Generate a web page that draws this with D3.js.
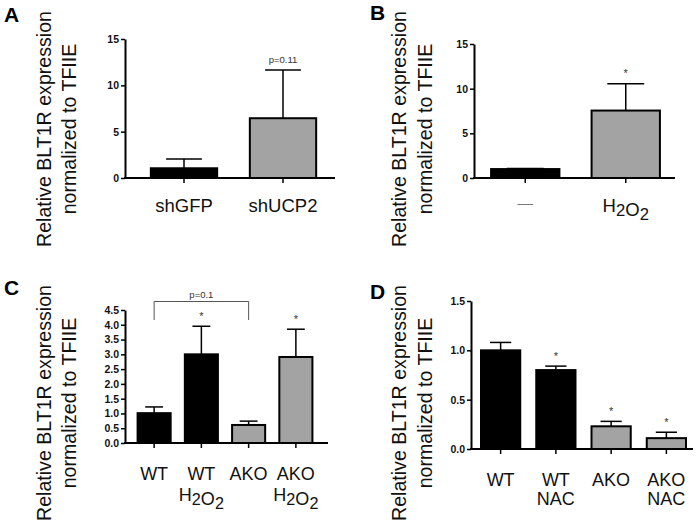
<!DOCTYPE html>
<html>
<head>
<meta charset="utf-8">
<script src="https://cdn.jsdelivr.net/npm/d3@7"></script>
<style>
body { margin: 0; background: #fff; }
svg text { font-family: "Liberation Sans", Arial, Helvetica, sans-serif; }
</style>
</head>
<body>
<svg id="fig" width="697" height="523"></svg>
<script>
// data
// A: shRNA knockdown
var catsA = ["shGFP", "shUCP2"],
	meanA = [1.05, 6.45],
	semA = [1.0, 5.2],
	groupA = ["ctrl", "alt"],
	noteA = ["", "p=0.11"],
	ticksA = [0, 5, 10, 15];

// B: H2O2 treatment
var catsB = ["—", "H_2O_2"],
	meanB = [1.0, 7.55],
	semB = [0.06, 3.0],
	groupB = ["ctrl", "alt"],
	noteB = ["", "*"],
	ticksB = [0, 5, 10, 15];

// C: WT / AKO +- H2O2
var catsC = ["WT", "WT|H_2O_2", "AKO", "AKO|H_2O_2"],
	meanC = [1.01, 3.0, 0.61, 2.91],
	semC = [0.21, 0.95, 0.13, 0.94],
	groupC = ["ctrl", "ctrl", "alt", "alt"],
	noteC = ["", "*", "", "*"],
	ticksC = [0, 0.5, 1, 1.5, 2, 2.5, 3, 3.5, 4, 4.5],
	bracketC = [0, 2],
	bracketTextC = "p=0.1";

// D: WT / AKO +- NAC
var catsD = ["WT", "WT|NAC", "AKO", "AKO|NAC"],
	meanD = [1.0, 0.80, 0.23, 0.11],
	semD = [0.08, 0.04, 0.05, 0.06],
	groupD = ["ctrl", "ctrl", "alt", "alt"],
	noteD = ["", "*", "*", "*"],
	ticksD = [0, 0.5, 1, 1.5];

var yTitle = ["Relative BLT1R expression", "normalized to TFIIE"];

var svg = d3.select("#fig");
var color = d3.scaleOrdinal().domain(["ctrl", "alt"]).range(["#000000", "#a3a3a3"]);

// write "H_2O_2" style text with subscripts
function richText(sel, str) {
	var parts = str.split(/(_\d)/);
	parts.forEach(function(p) {
		if (!p) return;
		if (p[0] == "_") {
			sel.append("tspan").attr("dy", 4).attr("font-size", "0.9em").text(p.slice(1));
			sel.append("tspan").attr("dy", -4).text("");
		} else {
			sel.append("tspan").text(p);
		}
	});
}

function panel(p) {
	var g = svg.append("g");
	var y = d3.scaleLinear().domain([0, p.max]).range([p.y0, p.y1]);
	var x = d3.scaleBand().domain(p.cats).range(p.band).paddingInner(p.pad).paddingOuter(p.pad / 2);
	var rows = p.cats.map(function(c, i) {
		return {c: c, m: p.mean[i], e: p.sem[i], g: p.group[i], n: p.note[i]};
	});

	// letter
	g.append("text").attr("x", p.letter[0]).attr("y", p.letter[1])
		.attr("font-size", 21).attr("font-weight", "bold").text(p.name);

	// y title
	yTitle.forEach(function(t, i) {
		g.append("text")
			.attr("transform", "translate(" + p.yl[i] + "," + p.yc + ") rotate(-90)")
			.attr("text-anchor", "middle").attr("font-size", 19.6).attr("fill", "#111")
			.text(t);
	});

	// bars
	g.selectAll(".bar").data(rows).enter().append("rect")
		.attr("x", function(d) { return x(d.c); })
		.attr("width", x.bandwidth())
		.attr("y", function(d) { return y(d.m); })
		.attr("height", function(d) { return y(0) - y(d.m); })
		.attr("fill", function(d) { return color(d.g); })
		.attr("stroke", "#000").attr("stroke-width", 2);

	// error bars, upper half only
	var cap = x.bandwidth() * 0.27;
	rows.forEach(function(d) {
		var cx = x(d.c) + x.bandwidth() / 2;
		g.append("line").attr("x1", cx).attr("x2", cx)
			.attr("y1", y(d.m)).attr("y2", y(d.m + d.e))
			.attr("stroke", "#000").attr("stroke-width", 1.5);
		g.append("line").attr("x1", cx - cap).attr("x2", cx + cap)
			.attr("y1", y(d.m + d.e)).attr("y2", y(d.m + d.e))
			.attr("stroke", "#000").attr("stroke-width", 1.5);
		if (d.n) {
			var star = d.n == "*";
			g.append("text").attr("x", cx).attr("y", y(d.m + d.e) - (star ? 6.5 : 7))
				.attr("text-anchor", "middle").attr("font-size", star ? 11 : 9.5)
				.attr("fill", "#333").text(d.n);
		}
	});

	// y axis
	var ya = g.append("g").attr("transform", "translate(" + p.left + ",0)")
		.call(d3.axisLeft(y).tickValues(p.ticks).tickSize(4).tickSizeOuter(0).tickPadding(2)
			.tickFormat(p.fmt));
	ya.select(".domain").attr("stroke-width", 2);
	ya.selectAll(".tick line").attr("stroke-width", 1.5);
	ya.selectAll(".tick text").attr("font-size", 10.5).attr("font-weight", "bold")
		.attr("font-family", "'Liberation Sans', Arial, sans-serif").attr("fill", "#111");

	// x axis
	g.append("line").attr("x1", p.left - 1).attr("x2", p.right)
		.attr("y1", y(0)).attr("y2", y(0)).attr("stroke", "#000").attr("stroke-width", 2);
	var xa = g.append("g").attr("transform", "translate(0," + y(0) + ")")
		.call(d3.axisBottom(x).tickSize(5).tickSizeOuter(0).tickFormat(""));
	xa.select(".domain").remove();
	xa.selectAll(".tick line").attr("stroke-width", 1.5);

	// category labels
	rows.forEach(function(d) {
		var cx = x(d.c) + x.bandwidth() / 2;
		d.c.split("|").forEach(function(line, j) {
			var t = g.append("text").attr("x", cx).attr("y", p.labelY + j * p.lineGap)
				.attr("text-anchor", "middle").attr("font-size", p.labelSize).attr("fill", "#111");
			if (line == "—") t.attr("fill", "#777").attr("font-size", p.labelSize - 3).attr("y", p.labelY - 4);
			richText(t, line);
		});
	});

	// comparison bracket
	if (p.bracket) {
		var bx1 = x(p.cats[p.bracket[0]]) + x.bandwidth() / 2,
			bx2 = x(p.cats[p.bracket[1]]) + x.bandwidth() / 2;
		g.append("path")
			.attr("d", "M" + bx1 + "," + p.bracketY[1] + "V" + p.bracketY[0] + "H" + bx2 + "V" + p.bracketY[1])
			.attr("fill", "none").attr("stroke", "#555").attr("stroke-width", 1);
		g.append("text").attr("x", (bx1 + bx2) / 2).attr("y", p.bracketY[0] - 4)
			.attr("text-anchor", "middle").attr("font-size", 9.5).attr("fill", "#333")
			.text(p.bracketText);
	}
}

var fmt0 = d3.format("d"), fmt1 = d3.format(".1f");

panel({name: "A", cats: catsA, mean: meanA, sem: semA, group: groupA, note: noteA, ticks: ticksA,
	max: 15, fmt: fmt0, left: 125, right: 335, y0: 178, y1: 39, band: [134.5, 332.5], pad: 0.33,
	labelY: 212, lineGap: 20, labelSize: 18.5, yl: [51, 76], yc: 129, letter: [4, 22]});

panel({name: "B", cats: catsB, mean: meanB, sem: semB, group: groupB, note: noteB, ticks: ticksB,
	max: 15, fmt: fmt0, left: 474, right: 675, y0: 178, y1: 44, band: [475, 676], pad: 0.32,
	labelY: 212, lineGap: 20, labelSize: 18.5, yl: [406, 432], yc: 129, letter: [370, 20]});

panel({name: "C", cats: catsC, mean: meanC, sem: semC, group: groupC, note: noteC, ticks: ticksC,
	max: 4.5, fmt: fmt1, left: 125, right: 328, y0: 443, y1: 310, band: [130.5, 319.5], pad: 0.30,
	labelY: 480, lineGap: 21, labelSize: 18, yl: [51, 76], yc: 403, letter: [4, 295],
	bracket: bracketC, bracketText: bracketTextC, bracketY: [301.5, 320]});

panel({name: "D", cats: catsD, mean: meanD, sem: semD, group: groupD, note: noteD, ticks: ticksD,
	max: 1.5, fmt: fmt1, left: 471, right: 693, y0: 449, y1: 301, band: [473, 694], pad: 0.29,
	labelY: 486, lineGap: 19, labelSize: 18, yl: [406, 432], yc: 403, letter: [370, 299]});
</script>
</body>
</html>
